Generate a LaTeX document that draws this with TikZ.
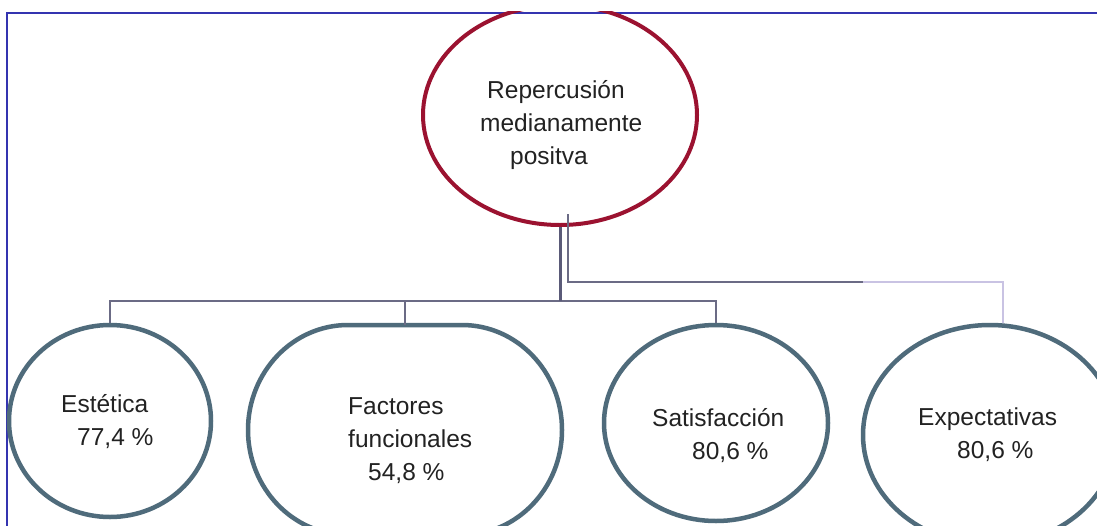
\documentclass[tikz,border=0pt]{standalone}
\usepackage{fontspec}
\setmainfont{Liberation Sans}
\usetikzlibrary{shapes.geometric}
\definecolor{redc}{HTML}{9B1230}
\definecolor{bluec}{HTML}{4F6B7B}
\definecolor{connc}{HTML}{6B6B85}
\definecolor{connthick}{HTML}{5A5A78}
\definecolor{lightc}{HTML}{C9C3E3}
\definecolor{borderc}{HTML}{3434B0}
\definecolor{textc}{HTML}{222222}
\begin{document}
\begin{tikzpicture}[x=1pt,y=-1pt,
  bub/.style={draw=bluec, line width=4.5pt, inner sep=0pt},
  topbub/.style={ellipse, draw=redc, line width=4pt, inner sep=0pt},
  lab/.style={align=left, inner sep=0pt, anchor=west, text=textc,
    font=\fontsize{24.5pt}{33pt}\selectfont},
  conn/.style={draw=connc, line width=1.5pt},
  connbold/.style={draw=connthick, line width=3pt},
  connlight/.style={draw=lightc, line width=2pt}]
\useasboundingbox (0,0) rectangle (1097,525);
\clip (0,0) rectangle (1097,525);
\fill[white] (0,0) rectangle (1097,525);
% frame
\draw[borderc, line width=2.5pt] (7,530) -- (7,13) -- (1100,13);
% top node
\begin{scope}
  \clip (0,11.5) rectangle (1097,525);
  \node[topbub, minimum width=274pt, minimum height=220pt] (top) at (560,115) {};
\end{scope}
\node[lab] (toptext) at (480,125.5) {\hspace*{7pt}Repercusión\\medianamente\\\hspace*{30pt}positva};
% bottom nodes
\node[bub, ellipse, minimum width=202pt, minimum height=192pt] (est) at (110,421) {};
\node[inner sep=0pt, outer sep=2.25pt, minimum width=314pt, minimum height=210pt] (fac) at (405,430) {};
\draw[bub] (348,325) -- (462,325)
  arc[start angle=-90, end angle=90, x radius=100, y radius=105]
  -- (348,535)
  arc[start angle=90, end angle=270, x radius=100, y radius=105] -- cycle;
\node[bub, ellipse, minimum width=224pt, minimum height=196pt] (sat) at (716,423) {};
\node[bub, ellipse, minimum width=254pt, minimum height=220pt] (exp) at (990,435) {};
\node[lab] (estt) at (61,422) {Estética\\\hspace*{16pt}77,4 \%};
\node[lab] (fact) at (348,441) {Factores\\funcionales\\\hspace*{20pt}54,8 \%};
\node[lab] (satt) at (652,435.5) {Satisfacción\\\hspace*{40pt}80,6 \%};
\node[lab] (expt) at (918,435) {Expectativas\\\hspace*{39pt}80,6 \%};
% connectors
\coordinate (hub) at (560,301);
\coordinate (c1) at (568,214);
\coordinate (c2) at (568,282);
\coordinate (c3) at (863,282);
\draw[conn] (est.north) -- (est.north |- hub) -- (sat.north |- hub) -- (sat.north);
\draw[conn] ([yshift=-2.25pt]fac.north) -- (fac.north |- hub);
\draw[connbold] (top.south) -- (hub);
\draw[conn] (c1) -- (c2) -- (c3);
\draw[connlight] (c3) -| ([xshift=13pt]exp.north);
\end{tikzpicture}
\end{document}
